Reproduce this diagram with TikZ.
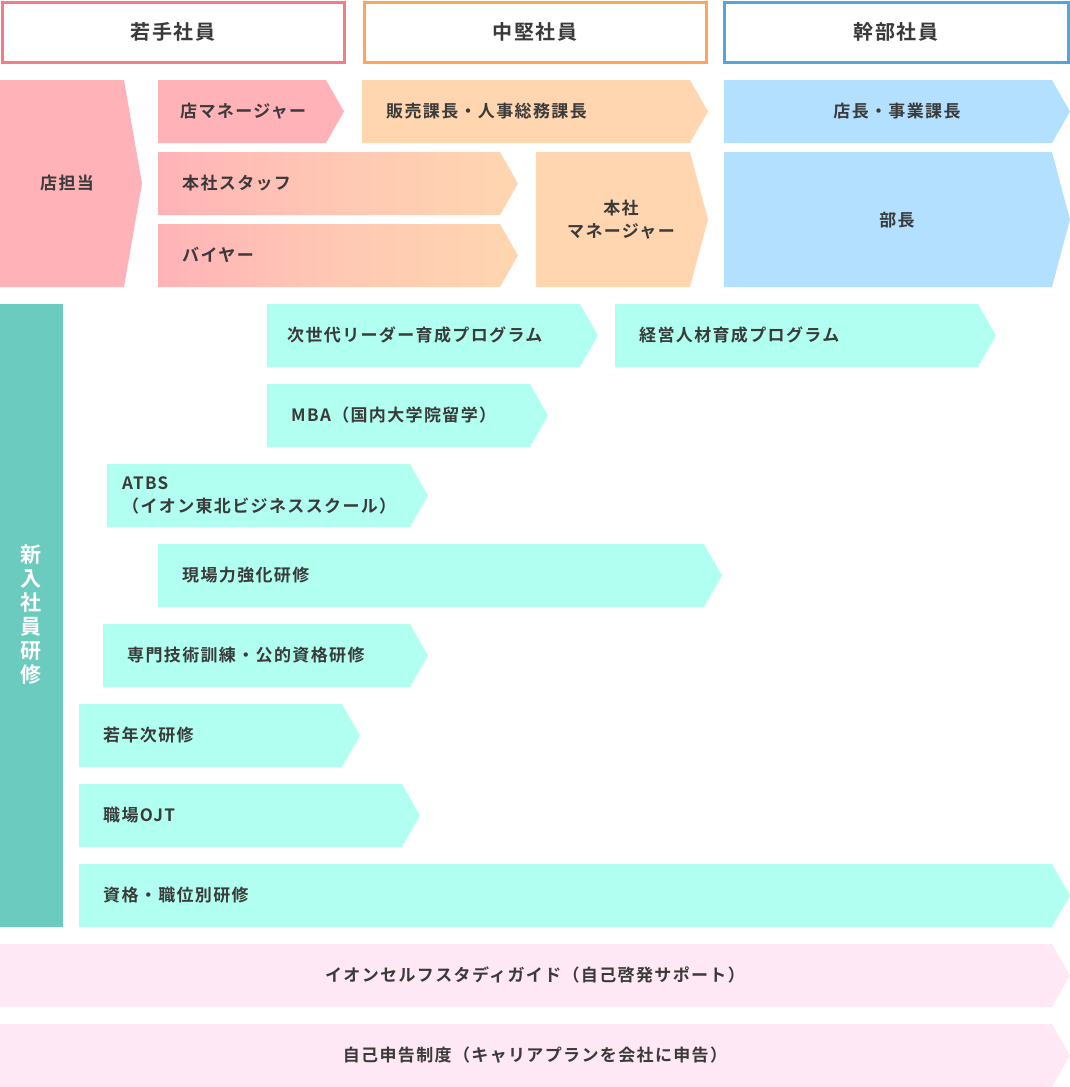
\documentclass[tikz,border=0pt]{standalone}
\usepackage{fontspec}
\setmainfont{Noto Sans CJK JP Bold}[LetterSpace=8]
\definecolor{hdpink}{HTML}{F47C85}
\definecolor{hdorange}{HTML}{FFA55A}
\definecolor{hdblue}{HTML}{55A5DA}
\definecolor{cpink}{HTML}{FFB3B8}
\definecolor{corange}{HTML}{FFD6B0}
\definecolor{cblue}{HTML}{B3E0FF}
\definecolor{cteal}{HTML}{6CCBBF}
\definecolor{ccyan}{HTML}{B0FFF0}
\definecolor{clav}{HTML}{FFE8F5}
\definecolor{ctext}{HTML}{3A3A3A}
% pentagon arrow: x1,y1,x2,y2 (tip 18 beyond x2)
\newcommand\pent[4]{(#1,#2) -- (#3,#2) -- ({#3+18},{(#2+#4)/2}) -- (#3,#4) -- (#1,#4) -- cycle}
\tikzset{
  lbl/.style={text=ctext, font=\fontsize{17}{23}\selectfont, inner sep=0pt, anchor=west, align=left},
  clbl/.style={lbl, anchor=center, align=center},
  head/.style={line width=3pt, fill=white},
  headlbl/.style={clbl, font=\fontsize{20}{24}\selectfont},
}
\begin{document}
\begin{tikzpicture}[x=1pt,y=-1pt]
\useasboundingbox (0,0) rectangle (1070,1087);
% headers
\draw[head, draw=hdpink] (2,2) rectangle (344,62);
\node[headlbl] (young) at (173,32) {若手社員};
\draw[head, draw=hdorange] (364,2) rectangle (706,62);
\node[headlbl] (middle) at (535,32) {中堅社員};
\draw[head, draw=hdblue] (724,2) rectangle (1068,62);
\node[headlbl] (exec) at (896,32) {幹部社員};

% career
\fill[cpink] \pent{0}{80}{124}{287};
\node[lbl] (tento) at (40,183) {店担当};
\fill[cpink] \pent{158}{80}{326}{143};
\node[lbl] (tenmgr) at (180,111) {店マネージャー};
\fill[corange] \pent{362}{80}{690}{143};
\node[lbl] (hanbai) at (386,111) {販売課長・人事総務課長};
\fill[cblue] \pent{724}{80}{1052}{143};
\node[clbl] (tencho) at (897,111) {店長・事業課長};
\shade[left color=cpink, right color=corange, middle color=corange!60!cpink] \pent{158}{152}{500}{215};
\node[lbl] (staff) at (182,183) {本社スタッフ};
\shade[left color=cpink, right color=corange, middle color=corange!60!cpink] \pent{158}{224}{500}{287};
\node[lbl] (buyer) at (182,255) {バイヤー};
\fill[corange] \pent{536}{152}{690}{287};
\node[clbl] (honsha) at (621,220) {本社\\マネージャー};
\fill[cblue] \pent{724}{152}{1052}{287};
\node[clbl] (bucho) at (897,220) {部長};

% training
\fill[cteal] (0,304) rectangle (63,927);
\node[clbl, text=white, font=\fontsize{21}{24}\selectfont, text width=22pt] (newhire) at (31,615) {新\\入\\社\\員\\研\\修};
\fill[ccyan] \pent{267}{304}{580}{367};
\node[lbl] (nextgen) at (287,335) {次世代リーダー育成プログラム};
\fill[ccyan] \pent{615}{304}{978}{367};
\node[lbl] (keiei) at (639,335) {経営人材育成プログラム};
\fill[ccyan] \pent{267}{384}{530}{447};
\node[lbl] (mba) at (291,415) {MBA（国内大学院留学）};
\fill[ccyan] \pent{107}{464}{410}{527};
\node[lbl] (atbs) at (122,495) {ATBS\\（イオン東北ビジネススクール）};
\fill[ccyan] \pent{158}{544}{704}{607};
\node[lbl] (genba) at (182,575) {現場力強化研修};
\fill[ccyan] \pent{103}{624}{410}{687};
\node[lbl] (senmon) at (127,655) {専門技術訓練・公的資格研修};
\fill[ccyan] \pent{79}{704}{342}{767};
\node[lbl] (jakunen) at (103,735) {若年次研修};
\fill[ccyan] \pent{79}{784}{402}{847};
\node[lbl] (ojt) at (103,815) {職場OJT};
\fill[ccyan] \pent{79}{864}{1052}{927};
\node[lbl] (shikaku) at (103,895) {資格・職位別研修};

% self development
\fill[clav] \pent{0}{944}{1052}{1007};
\node[clbl] (self) at (535,975) {イオンセルフスタディガイド（自己啓発サポート）};
\fill[clav] \pent{0}{1024}{1052}{1087};
\node[clbl] (shinkoku) at (535,1055) {自己申告制度（キャリアプランを会社に申告）};
\end{tikzpicture}
\end{document}
